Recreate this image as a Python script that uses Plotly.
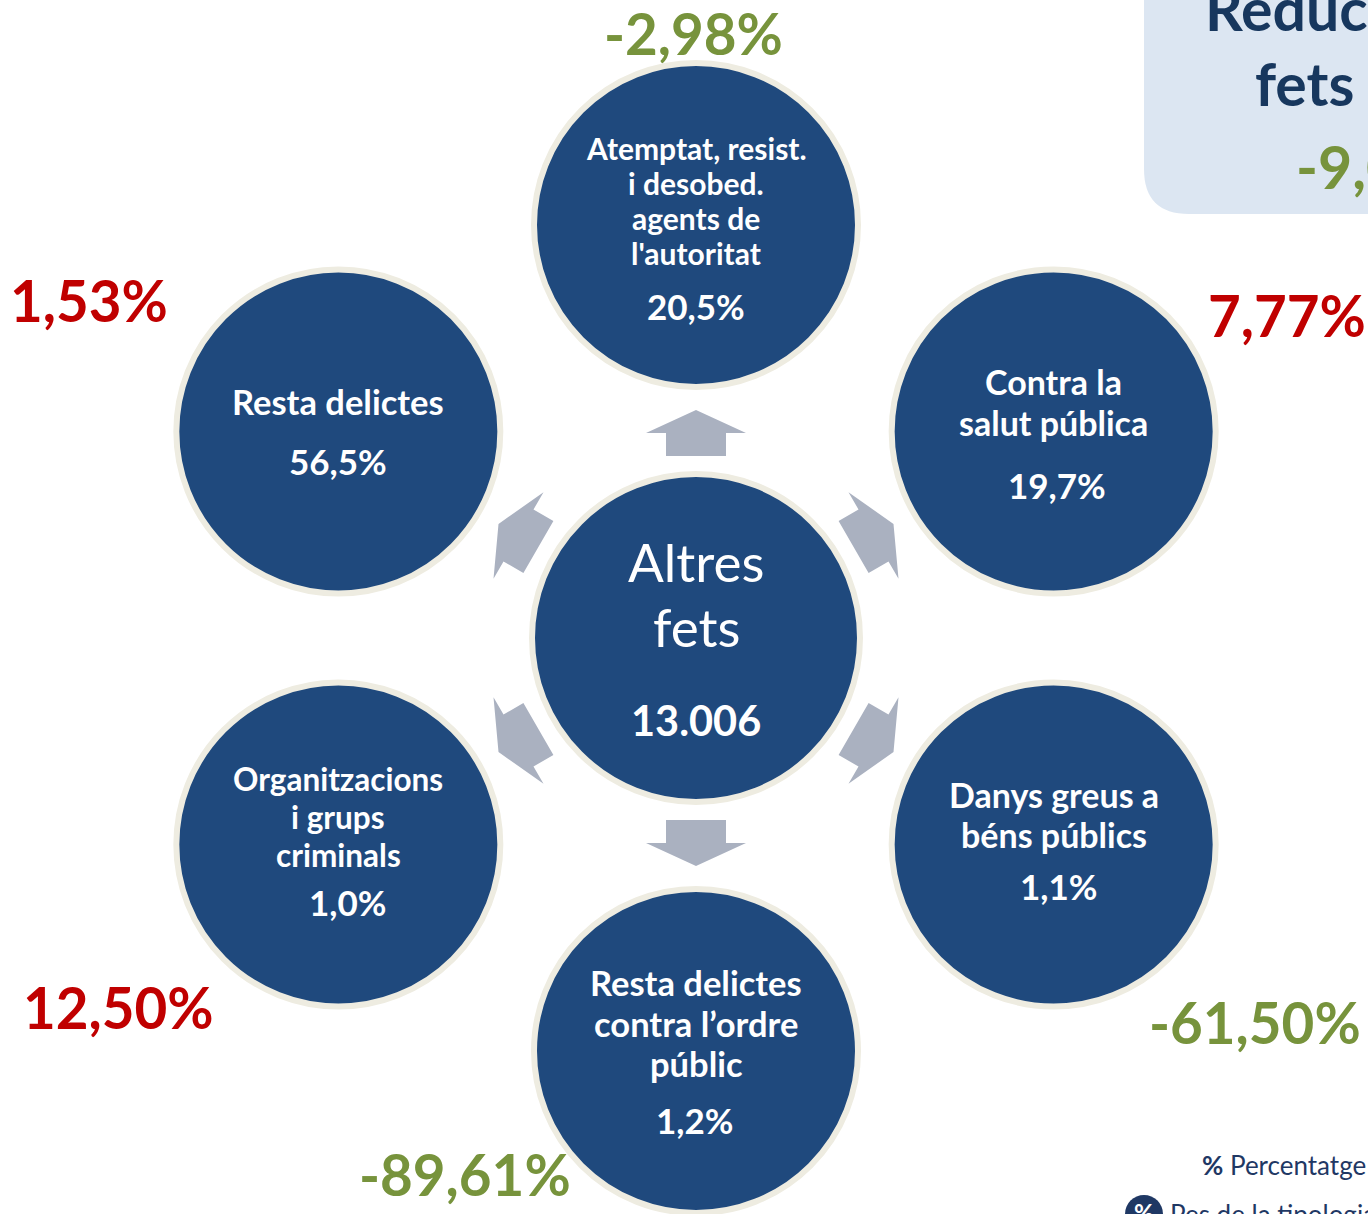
import math
import plotly.graph_objects as go

# ---- data ----
CENTER_LABEL = ["Altres", "fets"]
TOTAL_FACTS = 13006

categories = [
    ["Atemptat, resist.", "i desobed.", "agents de", "l'autoritat"],
    ["Contra la", "salut pública"],
    ["Danys greus a", "béns públics"],
    ["Resta delictes", "contra l’ordre", "públic"],
    ["Organitzacions", "i grups", "criminals"],
    ["Resta delictes"],
]
shares = [20.5, 19.7, 1.1, 1.2, 1.0, 56.5]          # pes de la tipologia (%)
changes = [-2.98, 7.77, -61.50, -89.61, 12.50, 1.53]  # percentatge de variació
overall_change = -9.06
legend_items = ["Percentatge de variació", "Pes de la tipologia"]

# ---- layout geometry (pixels) ----
W, H = 1368, 1214
CX, CY = 696, 638
R_SAT = 413
R_CIRC = 162
R_ARROW = 205
angles = [90, 30, -30, -90, 210, 150]
label_dy = [-25, -30, -30, -28, -28, -30]
line_gap = [35, 41, 40, 40.5, 38, 0]
share_dy = [81, 53, 41, 69, 57, 29]
share_dx = [0, 3, 5, -2, 9, 0]
label_size = [30, 34, 34, 34.5, 31.5, 34.5]
change_pos = [(693, 33), (1287, 315), (1255, 1022), (465, 1174), (118, 1007), (89, 300)]

NAVY = "#1F497D"
RING = "#EEECE1"
ARROW = "#AAB1C0"
GREEN = "#77933C"
RED = "#C00000"
FONT = "Lato"


def fmt(v, nd):
    return f"{v:.{nd}f}".replace(".", ",")


def circle(cx, cy, r):
    return dict(type="circle", xref="x", yref="y", x0=cx - r, x1=cx + r, y0=cy - r, y1=cy + r,
                fillcolor=NAVY, line=dict(color=RING, width=6), layer="below")


def arrow_path(ax, ay, ang):
    # arrow in local coords: u along direction, v across
    pts = [(-23, -30), (0, -30), (0, -50), (23, 0), (0, 50), (0, 30), (-23, 30)]
    c, s = math.cos(math.radians(ang)), math.sin(math.radians(ang))
    out = []
    for u, v in pts:
        x = ax + u * c - v * s
        y = ay - (u * s + v * c)
        out.append(f"{x:.1f},{y:.1f}")
    return "M" + " L".join(out) + " Z"


fig = go.Figure()
fig.add_trace(go.Scatter(x=[0, W], y=[0, H], mode="markers", marker=dict(opacity=0),
                         hoverinfo="skip", showlegend=False))

shapes = []
annotations = []

# top right summary box
shapes.append(dict(type="path", xref="x", yref="y",
                   path="M1144,-60 L1144,169 Q1144,214 1189,214 L1400,214 L1400,-60 Z",
                   fillcolor="#DCE6F2", line=dict(width=0), layer="below"))
annotations += [
    dict(x=1203, y=8, text="<b>Reducció</b>", xanchor="left", font=dict(size=59, color="#17375E")),
    dict(x=1253, y=83, text="<b>fets</b>", xanchor="left", font=dict(size=59, color="#17375E")),
    dict(x=1294, y=166, text=f"<b>{fmt(overall_change, 2)}%</b>", xanchor="left",
         font=dict(size=59, color=GREEN)),
]

# central circle
shapes.append(circle(CX, CY, 164))
annotations += [
    dict(x=CX, y=561, text=CENTER_LABEL[0], font=dict(size=53, color="white")),
    dict(x=CX, y=626, text=CENTER_LABEL[1], font=dict(size=53, color="white")),
    dict(x=CX, y=720, text=f"<b>{TOTAL_FACTS:,}</b>".replace(",", "."), font=dict(size=41.5, color="white")),
]

for i, ang in enumerate(angles):
    sx = CX + R_SAT * math.cos(math.radians(ang))
    sy = CY - R_SAT * math.sin(math.radians(ang))
    shapes.append(circle(sx, sy, R_CIRC))
    ax = CX + R_ARROW * math.cos(math.radians(ang))
    ay = CY - R_ARROW * math.sin(math.radians(ang))
    shapes.append(dict(type="path", xref="x", yref="y", path=arrow_path(ax, ay, ang),
                       fillcolor=ARROW, line=dict(width=0), layer="below"))
    lines = categories[i]
    n = len(lines)
    for k, line in enumerate(lines):
        ly = sy + label_dy[i] + (k - (n - 1) / 2) * line_gap[i]
        annotations.append(dict(x=sx, y=ly, text=f"<b>{line}</b>",
                                font=dict(size=label_size[i], color="white")))
    annotations.append(dict(x=sx + share_dx[i], y=sy + share_dy[i], text=f"<b>{fmt(shares[i], 1)}%</b>",
                            font=dict(size=35, color="white")))
    px, py = change_pos[i]
    annotations.append(dict(x=px, y=py, text=f"<b>{fmt(changes[i], 2)}%</b>",
                            font=dict(size=56.5, color=GREEN if changes[i] < 0 else RED)))

# legend (bottom right)
annotations.append(dict(x=1200, y=1165, xanchor="left",
                        text=f"<b>%</b> {legend_items[0]}", font=dict(size=26, color="#1F3864")))
shapes.append(dict(type="circle", xref="x", yref="y", x0=1125, x1=1163, y0=1195, y1=1233,
                   fillcolor="#1F3864", line=dict(width=0)))
annotations.append(dict(x=1144, y=1212, text="<b>%</b>", font=dict(size=24, color="white")))
annotations.append(dict(x=1168, y=1214, xanchor="left", text=legend_items[1],
                        font=dict(size=26, color="#1F3864")))

for a in annotations:
    a.setdefault("xref", "x")
    a.setdefault("yref", "y")
    a.setdefault("showarrow", False)
    a["font"].setdefault("family", FONT)

fig.update_layout(
    width=W, height=H,
    margin=dict(l=0, r=0, t=0, b=0),
    paper_bgcolor="white", plot_bgcolor="white",
    xaxis=dict(range=[0, W], visible=False, fixedrange=True),
    yaxis=dict(range=[H, 0], visible=False, fixedrange=True),
    shapes=shapes, annotations=annotations,
    showlegend=False,
)

fig.write_html("out.html", config={"displayModeBar": False},
               post_script="document.body.style.margin='0';")
